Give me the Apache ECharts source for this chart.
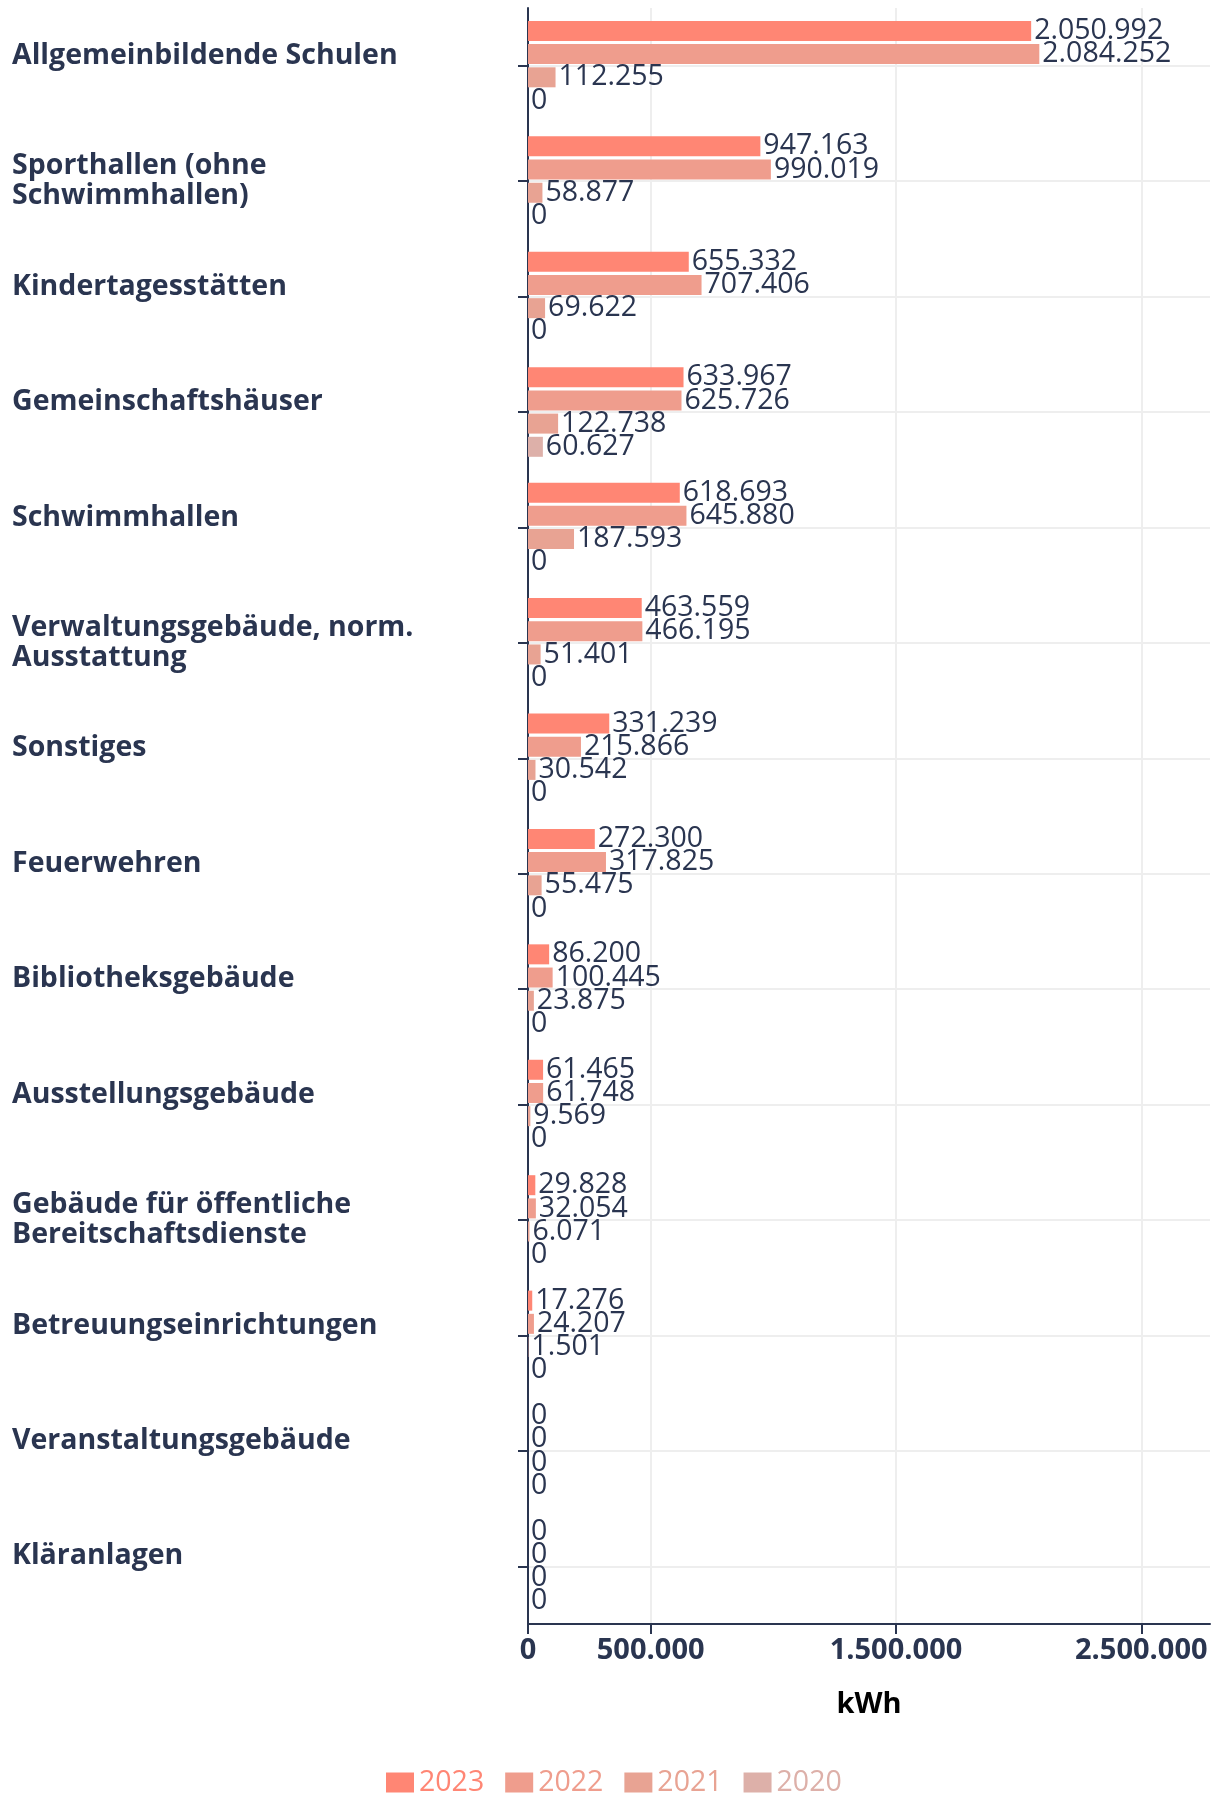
<!DOCTYPE html>
<html>
<head>
<meta charset="utf-8">
<script src="https://cdn.jsdelivr.net/npm/echarts@6/dist/echarts.min.js"></script>
<style>
  html, body { margin: 0; padding: 0; background: #fff; }
  #chart { width: 1217px; height: 1795px; }
</style>
</head>
<body>
<div id="chart"></div>
<script>
// categories (top to bottom)
const categories = [
  "Allgemeinbildende Schulen",
  "Sporthallen (ohne\nSchwimmhallen)",
  "Kindertagesstätten",
  "Gemeinschaftshäuser",
  "Schwimmhallen",
  "Verwaltungsgebäude, norm.\nAusstattung",
  "Sonstiges",
  "Feuerwehren",
  "Bibliotheksgebäude",
  "Ausstellungsgebäude",
  "Gebäude für öffentliche\nBereitschaftsdienste",
  "Betreuungseinrichtungen",
  "Veranstaltungsgebäude",
  "Kläranlagen"
];

const years = ["2023", "2022", "2021", "2020"];

const values2023 = [2050992, 947163, 655332, 633967, 618693, 463559, 331239, 272300, 86200, 61465, 29828, 17276, 0, 0];
const values2022 = [2084252, 990019, 707406, 625726, 645880, 466195, 215866, 317825, 100445, 61748, 32054, 24207, 0, 0];
const values2021 = [112255, 58877, 69622, 122738, 187593, 51401, 30542, 55475, 23875, 9569, 6071, 1501, 0, 0];
const values2020 = [0, 0, 0, 60627, 0, 0, 0, 0, 0, 0, 0, 0, 0, 0];

const xTicks = [0, 500000, 1500000, 2500000];

const colors = ["#ff8674", "#ef9d8d", "#e8a393", "#ddb0a9"];
const textColor = "#2a3550";
const font = "Open Sans";

function fmt(v) {
  return String(Math.round(v)).replace(/\B(?=(\d{3})+(?!\d))/g, ".");
}

const allValues = [values2023, values2022, values2021, values2020];

const chart = echarts.init(document.getElementById("chart"));

const series = years.map((y, i) => ({
  name: y,
  type: "bar",
  data: allValues[i],
  barWidth: 20,
  barGap: "16%",
  itemStyle: { color: colors[i] },
  label: {
    show: true,
    position: "right",
    distance: 3,
    color: textColor,
    fontFamily: font,
    fontSize: 28.5,
    formatter: (p) => fmt(p.value)
  },
  z: 3
}));

chart.setOption({
  animation: false,
  textStyle: { fontFamily: font },
  grid: { left: 528, right: 7, top: 8, bottom: 171, containLabel: false },
  legend: {
    top: 1763,
    left: 381,
    icon: "rect",
    itemWidth: 28,
    itemHeight: 20,
    itemGap: 21,
    textStyle: { fontSize: 28.5, fontFamily: font },
    data: years.map((y, i) => ({ name: y, textStyle: { color: colors[i] } }))
  },
  xAxis: {
    type: "value",
    min: 0,
    max: 2780000,
    name: "kWh",
    nameLocation: "middle",
    nameGap: 66,
    nameTextStyle: { fontSize: 29, fontWeight: "bold", color: "#000", fontFamily: font },
    axisLine: { show: true, lineStyle: { color: textColor, width: 2 } },
    axisTick: { show: true, length: 10, customValues: xTicks, lineStyle: { color: textColor, width: 2 } },
    axisLabel: {
      customValues: xTicks,
      formatter: (v) => fmt(v),
      fontSize: 29,
      fontWeight: "bold",
      color: textColor,
      margin: 12
    },
    splitLine: { show: true, lineStyle: { color: "#eeeeee", width: 2 } }
  },
  yAxis: {
    type: "category",
    inverse: true,
    data: categories,
    axisLine: { show: true, lineStyle: { color: textColor, width: 2 } },
    axisTick: { show: true, alignWithLabel: true, length: 10, lineStyle: { color: textColor, width: 2 } },
    splitLine: { show: true, alignWithLabel: true, lineStyle: { color: "#eeeeee", width: 2 } },
    axisLabel: {
      align: "left",
      margin: 516,
      fontSize: 28.5,
      fontWeight: "bold",
      color: textColor,
      lineHeight: 30,
      formatter: (v) => (v.indexOf("\n") >= 0 ? v : "{s|" + v + "}"),
      rich: {
        s: { fontSize: 28.5, fontWeight: "bold", color: textColor, fontFamily: font, padding: [0, 0, 20, 0] }
      }
    }
  },
  series: series
});
</script>
</body>
</html>
